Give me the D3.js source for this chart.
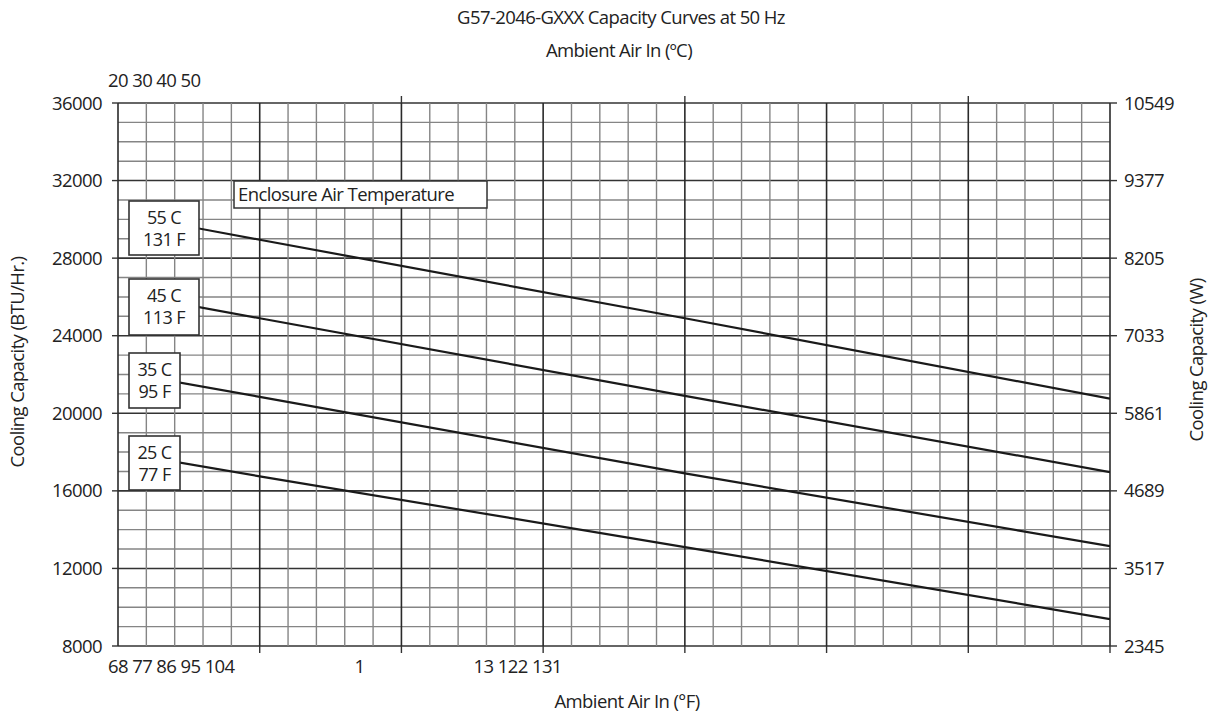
<!DOCTYPE html>
<html>
<head>
<meta charset="utf-8">
<script src="https://cdn.jsdelivr.net/npm/d3@7"></script>
<style>
  body { margin: 0; background: #fff; }
  svg { font-family: "Open Sans", "Noto Sans", sans-serif; }
  .lbl { font-size: 18.5px; fill: #222; letter-spacing: -0.6px; }
  .big { font-size: 18px; }
</style>
</head>
<body>
<svg id="chart" width="1212" height="715"></svg>
<script>
// ambient air (°C) where the curves were read
const ambientC = [20, 25, 40, 55];

// cooling capacity (BTU/Hr.) per enclosure temperature
const cap55 = [30300, 28950, 24900, 20750];
const cap45 = [26250, 24900, 20900, 16970];
const cap35 = [22150, 20850, 16900, 13150];
const cap25 = [18000, 16750, 13100, 9390];

const seriesNames = [["55 C", "131 F"], ["45 C", "113 F"], ["35 C", "95 F"], ["25 C", "77 F"]];
const seriesValues = [cap55, cap45, cap35, cap25];

const leftTicks = [8000, 12000, 16000, 20000, 24000, 28000, 32000, 36000];
const rightTickLabels = ["2345", "3517", "4689", "5861", "7033", "8205", "9377", "10549"];

// the tick labels on the source are bunched together, kept as they appear
const topLabels = [{ at: 20, text: "20 30 40 50" }];
const bottomLabels = [
  { at: 20, text: "68 77 86 95 104" },
  { at: 28.7, text: "1" },
  { at: 32.9, text: "13 122 131" }
];

const svg = d3.select("#chart");
const m = { left: 118, right: 1110, top: 103, bottom: 646 };

const x = d3.scaleLinear().domain([20, 55]).range([m.left, m.right]);
const y = d3.scaleLinear().domain([8000, 36000]).range([m.bottom, m.top]);

// grid
const grid = svg.append("g");
const vTicks = d3.range(20, 56, 1);
const hTicks = d3.range(8000, 36001, 1000);

grid.selectAll("line.h").data(hTicks).join("line")
  .attr("x1", m.left).attr("x2", m.right)
  .attr("y1", d => y(d)).attr("y2", d => y(d))
  .attr("stroke", d => d % 4000 === 0 ? "#333" : "#858585")
  .attr("stroke-width", d => d % 4000 === 0 ? 1.6 : 1.4);

grid.selectAll("line.v").data(vTicks).join("line")
  .attr("y1", m.top).attr("y2", m.bottom)
  .attr("x1", d => x(d)).attr("x2", d => x(d))
  .attr("stroke", d => d % 5 === 0 ? "#2a2a2a" : "#858585")
  .attr("stroke-width", d => d % 5 === 0 ? 1.6 : 1.4);

// outer ticks
const ticks = svg.append("g").attr("stroke", "#333").attr("stroke-width", 1.4);
ticks.selectAll("line.l").data(leftTicks).join("line")
  .attr("x1", m.left - 6).attr("x2", m.left)
  .attr("y1", d => y(d)).attr("y2", d => y(d));
ticks.selectAll("line.r").data(leftTicks).join("line")
  .attr("x1", m.right).attr("x2", m.right + 7)
  .attr("y1", d => y(d)).attr("y2", d => y(d));
ticks.selectAll("line.t").data([30, 40, 50]).join("line")
  .attr("x1", d => x(d)).attr("x2", d => x(d))
  .attr("y1", m.top - 7).attr("y2", m.top);
ticks.selectAll("line.b").data([25, 30, 35, 40, 45, 50, 55]).join("line")
  .attr("x1", d => x(d)).attr("x2", d => x(d))
  .attr("y1", m.bottom).attr("y2", m.bottom + 7);

// curve label boxes
const boxes = [
  { top: 201, h: 54, w: 70 },
  { top: 279, h: 56, w: 70 },
  { top: 353, h: 55, w: 51 },
  { top: 436, h: 54, w: 51 }
];
const bx = 129;

// curves start at the right edge of their label box
const defs = svg.append("defs");
boxes.forEach((b, i) => {
  defs.append("clipPath").attr("id", "clip" + i)
    .append("rect").attr("x", bx + b.w).attr("y", 0)
    .attr("width", m.right - bx - b.w).attr("height", 715);
});

const line = d3.line().x((d, i) => x(ambientC[i])).y(d => y(d));
svg.append("g").selectAll("path").data(seriesValues).join("path")
  .attr("d", d => line(d))
  .attr("clip-path", (d, i) => `url(#clip${i})`)
  .attr("fill", "none")
  .attr("stroke", "#1a1a1a")
  .attr("stroke-width", 2.2);

const lg = svg.append("g");
boxes.forEach((b, i) => {
  lg.append("rect").attr("x", bx).attr("y", b.top).attr("width", b.w).attr("height", b.h)
    .attr("fill", "#fff").attr("stroke", "#333").attr("stroke-width", 1.6);
  const cx = bx + b.w / 2;
  lg.append("text").attr("class", "lbl big").attr("x", cx).attr("y", b.top + 23)
    .attr("text-anchor", "middle").text(seriesNames[i][0]);
  lg.append("text").attr("class", "lbl big").attr("x", cx).attr("y", b.top + 45)
    .attr("text-anchor", "middle").text(seriesNames[i][1]);
});

// enclosure legend title
lg.append("rect").attr("x", 234).attr("y", 181).attr("width", 253).attr("height", 27)
  .attr("fill", "#fff").attr("stroke", "#333").attr("stroke-width", 1.5);
lg.append("text").attr("class", "lbl").attr("x", 238).attr("y", 201)
  .text("Enclosure Air Temperature");

// tick labels
const tl = svg.append("g");
tl.selectAll("text.l").data(leftTicks).join("text")
  .attr("class", "lbl").attr("x", m.left - 16).attr("y", d => y(d) + 6.5)
  .attr("text-anchor", "end").text(d => d);
tl.selectAll("text.r").data(leftTicks).join("text")
  .attr("class", "lbl").attr("x", m.right + 14).attr("y", d => y(d) + 6.5)
  .text((d, i) => rightTickLabels[i]);
tl.selectAll("text.t").data(topLabels).join("text")
  .attr("class", "lbl").attr("x", d => x(d.at) - 10).attr("y", 87)
  .text(d => d.text);
tl.selectAll("text.b").data(bottomLabels).join("text")
  .attr("class", "lbl").attr("x", d => x(d.at) - 10).attr("y", 673)
  .text(d => d.text);

// titles
svg.append("text").attr("class", "lbl").attr("x", 621).attr("y", 24)
  .attr("text-anchor", "middle").text("G57-2046-GXXX Capacity Curves at 50 Hz");
svg.append("text").attr("class", "lbl").attr("x", 619).attr("y", 57)
  .attr("text-anchor", "middle").text("Ambient Air In (ºC)");
svg.append("text").attr("class", "lbl").attr("x", 627).attr("y", 708)
  .attr("text-anchor", "middle").text("Ambient Air In (°F)");
svg.append("text").attr("class", "lbl")
  .attr("transform", "translate(24,362) rotate(-90)")
  .attr("text-anchor", "middle").text("Cooling Capacity (BTU/Hr.)");
svg.append("text").attr("class", "lbl")
  .attr("transform", "translate(1203,360) rotate(-90)")
  .attr("text-anchor", "middle").text("Cooling Capacity (W)");
</script>
</body>
</html>
